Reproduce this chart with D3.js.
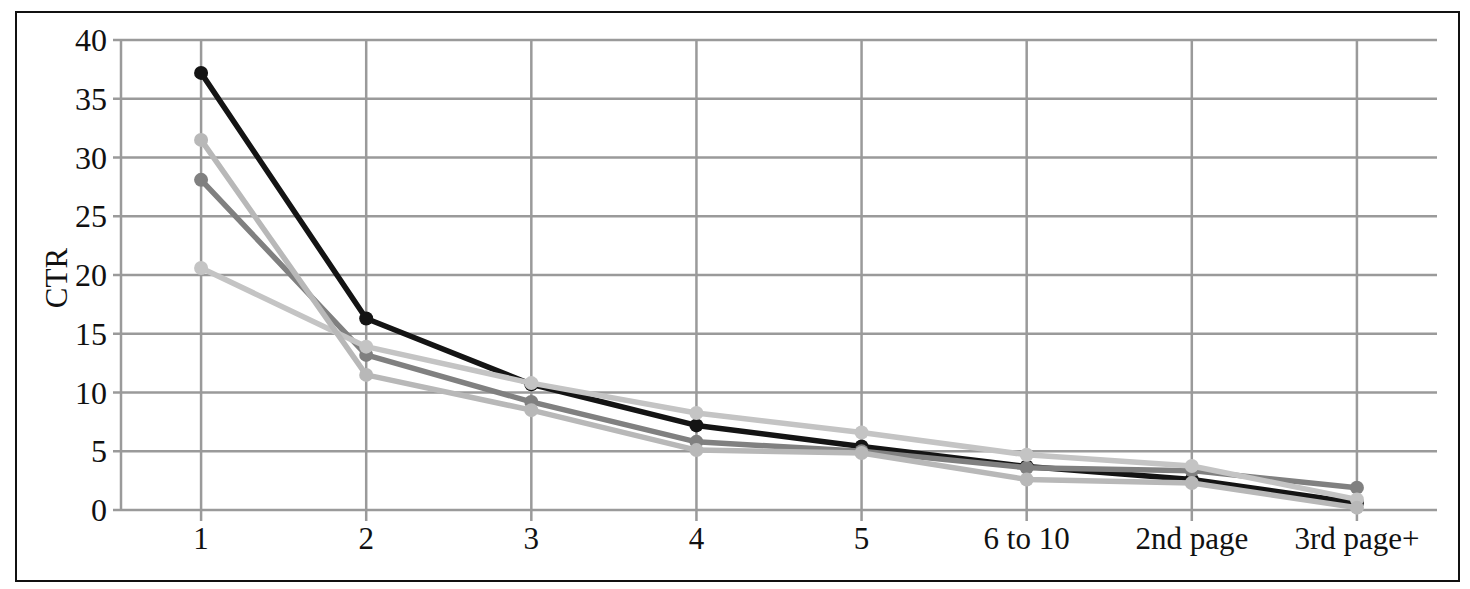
<!DOCTYPE html>
<html>
<head>
<meta charset="utf-8">
<script src="https://cdn.jsdelivr.net/npm/d3@7/dist/d3.min.js"></script>
<style>
html,body{margin:0;padding:0;background:#fff;}
svg text{font-family:"Liberation Serif","DejaVu Serif",serif;fill:#111;}
</style>
</head>
<body>
<svg id="chart" width="1470" height="589"></svg>
<script>
const categories = ["1","2","3","4","5","6 to 10","2nd page","3rd page+"];
const seriesA = [37.2, 16.3, 10.7, 7.2, 5.4, 3.7, 2.6, 0.6];
const seriesB = [28.1, 13.2, 9.2, 5.8, 5.0, 3.6, 3.35, 1.9];
const seriesC = [31.5, 11.5, 8.5, 5.1, 4.85, 2.6, 2.3, 0.2];
const seriesD = [20.6, 13.9, 10.8, 8.25, 6.6, 4.7, 3.75, 0.9];
const yTicks = [0, 5, 10, 15, 20, 25, 30, 35, 40];
const yLabel = "CTR";

const series = [
  {values: seriesA, color: "#141414"},
  {values: seriesB, color: "#808080"},
  {values: seriesD, color: "#c4c4c4"},
  {values: seriesC, color: "#b8b8b8"}
];

const svg = d3.select("#chart");
const mLeft = 121, mRight = 1437, mTop = 40, mBottom = 510;

svg.append("rect").attr("x", 16).attr("y", 12).attr("width", 1443).attr("height", 569)
  .attr("fill", "none").attr("stroke", "#111").attr("stroke-width", 2);

const x = d3.scalePoint().domain(categories).range([mLeft, mRight]).padding(0.485);
const y = d3.scaleLinear().domain([0, 40]).range([mBottom, mTop]);

const gridColor = "#9a9a9a";
svg.append("g").selectAll("line").data(yTicks).join("line")
  .attr("x1", mLeft - 8).attr("x2", mRight)
  .attr("y1", d => y(d)).attr("y2", d => y(d))
  .attr("stroke", gridColor).attr("stroke-width", 2.5);
svg.append("g").selectAll("line").data(categories).join("line")
  .attr("x1", d => x(d)).attr("x2", d => x(d))
  .attr("y1", mTop).attr("y2", mBottom + 11)
  .attr("stroke", gridColor).attr("stroke-width", 2.5);
svg.append("line").attr("x1", mLeft).attr("x2", mLeft).attr("y1", mTop).attr("y2", mBottom)
  .attr("stroke", gridColor).attr("stroke-width", 2.5);

svg.append("g").selectAll("text").data(yTicks).join("text")
  .attr("x", mLeft - 14).attr("y", d => y(d)).attr("dy", "0.35em")
  .attr("text-anchor", "end").attr("font-size", 32).text(d => d);

svg.append("g").selectAll("text").data(categories).join("text")
  .attr("x", d => x(d)).attr("y", 549)
  .attr("text-anchor", "middle").attr("font-size", 31).text(d => d);

svg.append("text").attr("transform", `translate(67,${(mTop + mBottom) / 2 + 3}) rotate(-90)`)
  .attr("text-anchor", "middle").attr("font-size", 31).text(yLabel);

const line = d3.line().x((d, i) => x(categories[i])).y(d => y(d));

series.forEach(s => {
  const g = svg.append("g");
  g.append("path").datum(s.values).attr("d", line)
    .attr("fill", "none").attr("stroke", s.color).attr("stroke-width", 5.5)
    .attr("stroke-linejoin", "round");
  g.selectAll("circle").data(s.values).join("circle")
    .attr("cx", (d, i) => x(categories[i])).attr("cy", d => y(d))
    .attr("r", 7).attr("fill", s.color);
});
</script>
</body>
</html>
